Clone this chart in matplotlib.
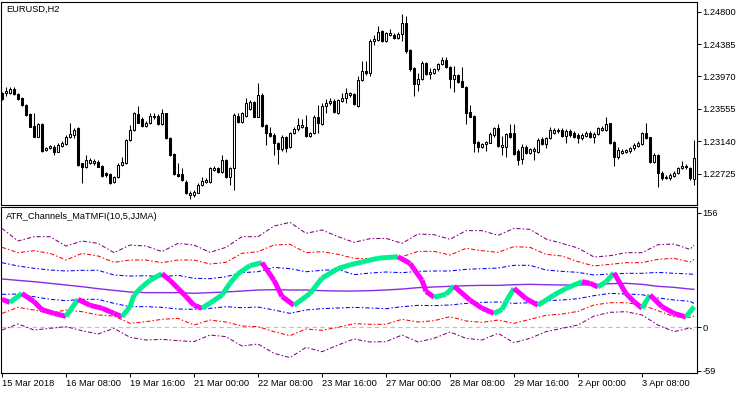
import matplotlib.pyplot as plt
import numpy as np
from matplotlib.collections import LineCollection

plt.rcParams['font.family'] = ['Liberation Sans', 'DejaVu Sans']

# EURUSD H2 candles (bar index = position)
opens = [1.23754, 1.23754, 1.23763, 1.23806, 1.23742, 1.23699, 1.23605, 1.23490, 1.23336, 1.23199,
         1.23362, 1.23029, 1.23050, 1.23071, 1.23007, 1.23080, 1.23105, 1.23191, 1.23221, 1.23306,
         1.22858, 1.22806, 1.22858, 1.22858, 1.22879, 1.22824, 1.22730, 1.22717, 1.22623, 1.22678,
         1.22836, 1.22858, 1.23157, 1.23285, 1.23490, 1.23421, 1.23336, 1.23370, 1.23447, 1.23468,
         1.23362, 1.23498, 1.23178, 1.22977, 1.22721, 1.22721, 1.22623, 1.22452, 1.22452, 1.22482,
         1.22580, 1.22623, 1.22623, 1.22772, 1.22794, 1.22751, 1.22900, 1.22687, 1.22794, 1.23464,
         1.23391, 1.23464, 1.23549, 1.23648, 1.23456, 1.23733, 1.23349, 1.23251, 1.23221, 1.23122,
         1.23037, 1.23191, 1.23063, 1.23242, 1.23293, 1.23319, 1.23319, 1.23208, 1.23242, 1.23447,
         1.23362, 1.23592, 1.23626, 1.23660, 1.23498, 1.23660, 1.23690, 1.23733, 1.23742, 1.23592,
         1.23925, 1.24045, 1.24011, 1.24425, 1.24438, 1.24553, 1.24429, 1.24502, 1.24502, 1.24459,
         1.24510, 1.24651, 1.24310, 1.24075, 1.23870, 1.23934, 1.24147, 1.24002, 1.24019, 1.24062,
         1.24126, 1.24181, 1.24096, 1.23934, 1.23989, 1.23912, 1.23840, 1.23511, 1.23464, 1.23135,
         1.23071, 1.23105, 1.23122, 1.23221, 1.23315, 1.23071, 1.23071, 1.23251, 1.23251, 1.23020,
         1.22909, 1.23071, 1.22994, 1.23020, 1.23007, 1.23165, 1.23105, 1.23178, 1.23251, 1.23268,
         1.23285, 1.23208, 1.23272, 1.23251, 1.23221, 1.23178, 1.23208, 1.23251, 1.23191, 1.23233,
         1.23285, 1.23285, 1.23370, 1.23135, 1.22943, 1.22994, 1.23007, 1.23020, 1.23050, 1.23080,
         1.23105, 1.23242, 1.23191, 1.22879, 1.22964, 1.22738, 1.22666, 1.22666, 1.22695, 1.22730,
         1.22794, 1.22828, 1.22794, 1.22653]
highs = [1.23776, 1.23831, 1.23831, 1.23840, 1.23754, 1.23712, 1.23618, 1.23507, 1.23498, 1.23370,
         1.23370, 1.23071, 1.23093, 1.23093, 1.23114, 1.23140, 1.23221, 1.23370, 1.23306, 1.23319,
         1.22866, 1.22964, 1.22922, 1.22918, 1.22900, 1.22832, 1.22747, 1.22730, 1.22695, 1.22858,
         1.22943, 1.23174, 1.23349, 1.23515, 1.23592, 1.23447, 1.23396, 1.23498, 1.23498, 1.23490,
         1.23558, 1.23507, 1.23191, 1.22986, 1.22866, 1.22794, 1.22644, 1.22499, 1.22516, 1.22602,
         1.22687, 1.22666, 1.22815, 1.22824, 1.22815, 1.22964, 1.22909, 1.22815, 1.23498, 1.23498,
         1.23520, 1.23690, 1.23669, 1.23660, 1.23891, 1.23763, 1.23362, 1.23327, 1.23242, 1.23135,
         1.23221, 1.23208, 1.23263, 1.23327, 1.23434, 1.23421, 1.23477, 1.23263, 1.23477, 1.23605,
         1.23626, 1.23686, 1.23690, 1.23678, 1.23686, 1.23754, 1.23818, 1.23776, 1.23754, 1.23976,
         1.24164, 1.24164, 1.24446, 1.24502, 1.24617, 1.24566, 1.24540, 1.24574, 1.24523, 1.24544,
         1.24771, 1.24745, 1.24318, 1.24087, 1.24011, 1.24169, 1.24160, 1.24075, 1.24083, 1.24147,
         1.24224, 1.24216, 1.24109, 1.24105, 1.24002, 1.24096, 1.23848, 1.23605, 1.23477, 1.23148,
         1.23114, 1.23148, 1.23263, 1.23327, 1.23362, 1.23208, 1.23251, 1.23362, 1.23362, 1.23037,
         1.23105, 1.23088, 1.23058, 1.23071, 1.23182, 1.23191, 1.23199, 1.23327, 1.23306, 1.23306,
         1.23306, 1.23293, 1.23293, 1.23276, 1.23242, 1.23242, 1.23268, 1.23268, 1.23263, 1.23327,
         1.23336, 1.23456, 1.23379, 1.23148, 1.23071, 1.23037, 1.23046, 1.23071, 1.23114, 1.23140,
         1.23263, 1.23379, 1.23199, 1.22986, 1.22977, 1.22764, 1.22708, 1.22730, 1.22755, 1.22815,
         1.22883, 1.22845, 1.22815, 1.23157]
lows = [1.23669, 1.23720, 1.23746, 1.23733, 1.23669, 1.23592, 1.23464, 1.23319, 1.23191, 1.23191,
        1.23007, 1.23016, 1.23037, 1.22960, 1.22999, 1.23071, 1.23097, 1.23178, 1.23178, 1.22828,
        1.22610, 1.22794, 1.22845, 1.22841, 1.22806, 1.22687, 1.22687, 1.22593, 1.22610, 1.22666,
        1.22824, 1.22849, 1.23148, 1.23276, 1.23370, 1.23327, 1.23327, 1.23362, 1.23430, 1.23349,
        1.23353, 1.23165, 1.22952, 1.22708, 1.22678, 1.22631, 1.22461, 1.22397, 1.22431, 1.22473,
        1.22567, 1.22610, 1.22610, 1.22755, 1.22738, 1.22738, 1.22674, 1.22580, 1.22516, 1.23379,
        1.23379, 1.23456, 1.23541, 1.23447, 1.23447, 1.23327, 1.23093, 1.23191, 1.22964, 1.22849,
        1.23020, 1.22999, 1.23050, 1.23233, 1.23276, 1.23306, 1.23191, 1.23191, 1.23233, 1.23242,
        1.23349, 1.23498, 1.23605, 1.23507, 1.23485, 1.23648, 1.23635, 1.23712, 1.23605, 1.23575,
        1.23912, 1.23994, 1.23976, 1.24369, 1.24421, 1.24416, 1.24416, 1.24489, 1.24446, 1.24446,
        1.24429, 1.24267, 1.24045, 1.23725, 1.23789, 1.23921, 1.23989, 1.23942, 1.24002, 1.24045,
        1.24113, 1.24079, 1.23827, 1.23776, 1.23891, 1.23831, 1.23357, 1.23447, 1.23007, 1.23007,
        1.23050, 1.23020, 1.23114, 1.23199, 1.23071, 1.22964, 1.22943, 1.23178, 1.22964, 1.22836,
        1.22845, 1.22977, 1.22982, 1.22900, 1.22994, 1.23088, 1.23050, 1.23165, 1.23233, 1.23251,
        1.23191, 1.23114, 1.23199, 1.23182, 1.23114, 1.23157, 1.23191, 1.23178, 1.23122, 1.23221,
        1.23272, 1.23272, 1.23105, 1.22824, 1.22909, 1.22977, 1.22986, 1.22986, 1.23029, 1.23063,
        1.23093, 1.23165, 1.22866, 1.22858, 1.22559, 1.22644, 1.22653, 1.22644, 1.22678, 1.22717,
        1.22781, 1.22789, 1.22644, 1.22580]
closes = [1.23678, 1.23789, 1.23806, 1.23746, 1.23682, 1.23605, 1.23477, 1.23327, 1.23199, 1.23357,
          1.23020, 1.23058, 1.23080, 1.23007, 1.23093, 1.23122, 1.23191, 1.23233, 1.23285, 1.22836,
          1.22815, 1.22900, 1.22900, 1.22892, 1.22815, 1.22700, 1.22708, 1.22610, 1.22678, 1.22836,
          1.22875, 1.23157, 1.23285, 1.23498, 1.23379, 1.23336, 1.23379, 1.23464, 1.23464, 1.23357,
          1.23498, 1.23178, 1.22964, 1.22721, 1.22695, 1.22644, 1.22473, 1.22482, 1.22495, 1.22580,
          1.22636, 1.22644, 1.22794, 1.22794, 1.22751, 1.22900, 1.22687, 1.22794, 1.23477, 1.23391,
          1.23498, 1.23635, 1.23648, 1.23456, 1.23733, 1.23336, 1.23242, 1.23208, 1.23114, 1.23037,
          1.23191, 1.23050, 1.23242, 1.23293, 1.23349, 1.23349, 1.23208, 1.23242, 1.23456, 1.23370,
          1.23592, 1.23626, 1.23660, 1.23520, 1.23669, 1.23690, 1.23754, 1.23754, 1.23618, 1.23925,
          1.24045, 1.24011, 1.24425, 1.24450, 1.24544, 1.24429, 1.24523, 1.24523, 1.24459, 1.24510,
          1.24651, 1.24301, 1.24062, 1.23870, 1.23934, 1.24147, 1.24002, 1.24032, 1.24066, 1.24130,
          1.24181, 1.24096, 1.23934, 1.23989, 1.23904, 1.23840, 1.23507, 1.23456, 1.23122, 1.23071,
          1.23105, 1.23135, 1.23233, 1.23315, 1.23080, 1.23093, 1.23233, 1.23191, 1.22977, 1.22900,
          1.23071, 1.22994, 1.23037, 1.23041, 1.23157, 1.23105, 1.23178, 1.23285, 1.23285, 1.23285,
          1.23208, 1.23272, 1.23221, 1.23199, 1.23178, 1.23221, 1.23251, 1.23191, 1.23233, 1.23306,
          1.23315, 1.23362, 1.23122, 1.22943, 1.23029, 1.23020, 1.23029, 1.23050, 1.23093, 1.23114,
          1.23242, 1.23178, 1.22879, 1.22964, 1.22730, 1.22666, 1.22687, 1.22708, 1.22738, 1.22794,
          1.22828, 1.22806, 1.22666, 1.22922]

# ATR channel lines, read every 4 bars
band_bars = [0, 4, 8, 12, 16, 20, 24, 28, 32, 36, 40, 44, 48, 52, 56, 60, 64, 68, 72, 76, 80, 84,
             88, 92, 96, 100, 104, 108, 112, 116, 120, 124, 128, 132, 136, 140, 144, 148, 152, 156,
             160, 164, 168, 172, 173]
outer_up = [134.7, 117.5, 123.4, 123.4, 110.7, 117.5, 114.3, 101.6, 112.0, 110.7, 103.0, 114.3,
            112.0, 102.1, 108.9, 123.4, 123.4, 137.9, 142.9, 127.9, 132.5, 123.4,
            115.7, 120.7, 121.1, 114.3, 127.0, 126.1, 119.8, 131.6, 131.6, 125.2, 134.7,
            133.4, 120.2, 114.3, 108.0, 95.7, 97.5, 101.6, 101.6, 112.5, 113.4, 106.1, 112.0]
mid_up = [108.9, 101.6, 104.3, 100.7, 91.6, 100.7, 97.1, 88.5, 91.6, 91.6, 88.0, 91.6,
          91.6, 86.2, 88.5, 100.7, 103.0, 112.0, 113.0, 101.6, 103.0, 99.3,
          93.9, 93.4, 93.9, 96.2, 103.4, 103.4, 98.4, 107.5, 104.3, 102.1, 109.8,
          108.9, 99.3, 97.1, 89.4, 83.5, 85.7, 88.0, 88.0, 92.5, 93.9, 88.9, 92.5]
inner_up = [88.0, 83.5, 80.3, 78.0, 76.7, 77.6, 77.6, 71.2, 69.8, 70.3, 68.9, 70.8,
            66.7, 66.2, 68.9, 74.4, 75.7, 81.6, 79.8, 75.7, 77.6, 78.9,
            71.7, 73.9, 75.3, 74.4, 76.2, 76.7, 76.7, 78.9, 79.8, 80.7, 84.4,
            84.4, 78.0, 76.2, 74.8, 71.2, 72.6, 73.5, 73.5, 74.8, 73.5, 72.6, 72.1]
center = [65.8, 63.9, 62.1, 59.9, 57.6, 55.3, 52.6, 50.3, 48.1, 47.2, 47.2, 47.2,
          46.3, 47.2, 48.1, 49.4, 50.8, 51.2, 50.8, 50.8, 49.9, 49.4,
          49.4, 49.9, 50.8, 52.1, 54.0, 54.9, 55.8, 56.7, 57.1, 57.1, 58.0,
          58.5, 58.0, 57.6, 57.6, 58.0, 59.4, 59.9, 58.5, 55.8, 54.4, 52.1, 51.7]
inner_dn = [44.9, 45.3, 41.7, 38.1, 36.3, 38.1, 38.1, 32.6, 28.1, 28.1, 27.2, 24.9,
            24.5, 25.8, 28.1, 26.7, 27.6, 23.6, 19.0, 23.6, 25.4, 26.3,
            27.2, 26.3, 25.4, 28.1, 29.9, 29.5, 30.4, 32.6, 34.0, 34.5, 32.6,
            33.5, 36.3, 37.2, 39.0, 43.1, 46.2, 45.3, 44.4, 39.9, 37.2, 35.4, 32.6]
mid_dn = [19.0, 27.2, 23.6, 19.0, 23.6, 21.3, 16.8, 15.4, 5.4, 7.7, 10.9, 12.2,
          3.1, 9.9, 7.2, 1.8, 0.9, -5.9, -11.4, -2.3, -4.1, 0.0,
          5.0, 4.1, 4.1, 10.9, 7.2, 9.0, 14.5, 8.6, 6.8, 9.9, 5.4,
          10.9, 16.3, 18.1, 21.7, 30.4, 33.5, 33.5, 30.4, 22.6, 14.5, 13.6, 15.4]
outer_dn = [-3.7, 4.5, -3.7, -1.4, 0.9, -4.6, -9.1, -1.4, -13.6, -17.3, -16.4, -18.2,
            -19.5, -10.5, -12.7, -25.5, -22.7, -35.4, -41.3, -27.3, -33.2, -24.1,
            -15.9, -20.0, -19.5, -10.5, -20.0, -15.0, -6.4, -15.0, -17.3, -8.2, -20.9,
            -15.0, -5.9, -1.4, 3.1, 15.4, 20.4, 21.3, 16.8, 3.1, -5.9, -0.9, -3.7]

# MaTMFI line
mfi_bars = [0, 2, 5, 8, 10, 13, 16, 19, 22, 25, 28, 30, 32, 33, 35, 37, 40, 42, 44, 46,
            48, 50, 52, 55, 57, 59, 62, 65, 68, 70, 73, 77, 80, 84, 87, 90, 94, 96, 99, 102,
            105, 106, 108, 111, 113, 117, 120, 123, 125, 126, 128, 131, 134, 138, 141, 145, 147, 149, 151, 153,
            156, 158, 160, 162, 165, 168, 171, 173]
mfi_vals = [38, 34, 46, 35, 24, 19, 15, 38, 30, 26, 19, 14.5, 28, 44, 55, 64, 73, 64, 53, 42,
            30, 26, 33, 44, 60, 73, 84, 88, 64, 42, 30, 46, 67, 80, 85, 89, 94, 95, 96, 87,
            64, 49, 41, 45, 56, 37, 26, 19, 24, 35, 53, 39, 30, 44, 53, 62, 60, 55, 62, 74,
            46, 35, 26, 44, 28, 19, 14, 28]

date_bars = [0, 16, 32, 48, 64, 80, 96, 112, 128, 144, 160]
date_labels = ['15 Mar 2018', '16 Mar 08:00', '19 Mar 16:00', '21 Mar 00:00', '22 Mar 08:00',
               '23 Mar 16:00', '27 Mar 00:00', '28 Mar 08:00', '29 Mar 16:00', '2 Apr 00:00', '3 Apr 08:00']
price_ticks = [1.24800, 1.24385, 1.23970, 1.23555, 1.23140, 1.22725]
ind_ticks = [156, 0, -59]

W, H = 750, 394
fig = plt.figure(figsize=(W / 100, H / 100), dpi=100)
ax1 = fig.add_axes([1 / W, 1 - 205 / H, 696 / W, 203 / H])
ax2 = fig.add_axes([1 / W, 21 / H, 696 / W, 166 / H])

fs = 6.7
o = np.array(opens); h = np.array(highs); l = np.array(lows); c = np.array(closes)
x = np.arange(len(o))
up = c >= o
ax1.vlines(x, l, h, color='black', linewidth=0.75, zorder=2)
body_up = np.maximum(c[up] - o[up], 0.00003)
body_dn = np.maximum(o[~up] - c[~up], 0.00003)
ax1.bar(x[up], body_up, bottom=o[up], width=0.55, color='white', edgecolor='black', linewidth=0.75, zorder=3)
ax1.bar(x[~up], body_dn, bottom=c[~up], width=0.55, color='black', edgecolor='black', linewidth=0.75, zorder=3)

ax1.set_xlim(-0.25, 173.75)
ax1.set_ylim(1.223241, 1.249242)
ax1.set_xticks([])
ax1.yaxis.tick_right()
ax1.set_yticks(price_ticks)
ax1.set_yticklabels(['%.5f' % p for p in price_ticks])
ax1.tick_params(axis='y', length=3, width=0.7, pad=1, labelsize=fs)
ax1.text(5 / 696, 1 - 3 / 203, 'EURUSD,H2', transform=ax1.transAxes, va='top', ha='left', fontsize=fs)

# indicator window
dashdot = (0, (4, 2, 1.5, 2))
lw = 0.75
ax2.axhline(0, color='#C0C0C0', linestyle=(0, (4, 3)), linewidth=0.8, zorder=1)
ax2.plot(band_bars, outer_up, color='#800080', linestyle=dashdot, linewidth=lw)
ax2.plot(band_bars, mid_up, color='#FF0000', linestyle=dashdot, linewidth=lw)
ax2.plot(band_bars, inner_up, color='#0000FF', linestyle=dashdot, linewidth=lw)
ax2.plot(band_bars, center, color='#8A2BE2', linewidth=1.0)
ax2.plot(band_bars, inner_dn, color='#0000FF', linestyle=dashdot, linewidth=lw)
ax2.plot(band_bars, mid_dn, color='#FF0000', linestyle=dashdot, linewidth=lw)
ax2.plot(band_bars, outer_dn, color='#800080', linestyle=dashdot, linewidth=lw)

pts = np.column_stack([mfi_bars, mfi_vals])
segs = np.stack([pts[:-1], pts[1:]], axis=1)
cols = ['#00F090' if b > a else '#FF00FF' for a, b in zip(mfi_vals[:-1], mfi_vals[1:])]
ax2.add_collection(LineCollection(segs, colors=cols, linewidths=3.6, capstyle='butt', zorder=4))

ax2.set_xlim(-0.25, 173.75)
ax2.set_ylim(-62.2, 163.8)
ax2.yaxis.tick_right()
ax2.set_yticks(ind_ticks)
ax2.set_yticklabels([str(t) for t in ind_ticks])
ax2.tick_params(axis='y', length=3, width=0.7, pad=1, labelsize=fs)
ax2.set_xticks(date_bars)
ax2.set_xticklabels(date_labels, ha='left')
ax2.tick_params(axis='x', length=3, width=0.7, pad=1.5, labelsize=fs)
ax2.text(5 / 696, 1 - 5 / 166, 'ATR_Channels_MaTMFI(10,5,JJMA)', transform=ax2.transAxes,
         va='top', ha='left', fontsize=fs)

for ax in (ax1, ax2):
    for s in ax.spines.values():
        s.set_linewidth(0.8)
        s.set_color('black')

fig.savefig('out.png', dpi=100)
